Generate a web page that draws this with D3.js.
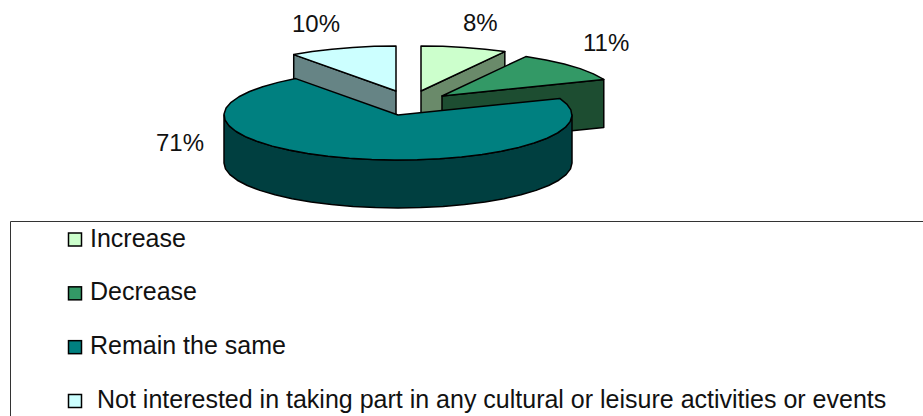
<!DOCTYPE html>
<html><head><meta charset="utf-8">
<script src="https://cdn.jsdelivr.net/npm/d3@7/dist/d3.min.js"></script>
<style>html,body{margin:0;padding:0;background:#fff}svg{display:block}text{font-family:"Liberation Sans",Arial,sans-serif;fill:#111}</style>
</head><body><div id="c"></div>
<script>
const categories = ["Increase","Decrease","Remain the same","Not interested in taking part in any cultural or leisure activities or events"];
const values = [8,11,71,10];
const valueLabels = ["8%","11%","71%","10%"];
const topColors = ["#CCFFCC","#339966","#008080","#CCFFFF"];
const wallColors = ["#6A8A6A","#1D4D31","#003F40","#668485"];
const apexes = [[421,91],[442,96],[398,115],[396,91]];
const labelPos = [[463,31],[583,51],[156,151],[292,32]];
const legendPad = ["","",""," "];

const W=923,H=416,RX=174,RY=45,DEPTH=48,STEP=Math.PI/24;
const svg=d3.select("#c").append("svg").attr("width",W).attr("height",H);
const arcs=d3.pie().sort(null)(values);
const sx=d3.scaleLinear().domain([-1,1]).range([-RX,RX]);
const sy=d3.scaleLinear().domain([-1,1]).range([RY,-RY]);
const line=d3.line().curve(d3.curveLinearClosed);
const pt=(i,a,dy=0)=>[apexes[i][0]+sx(Math.sin(a)),apexes[i][1]+sy(Math.cos(a))+dy];
function rim(i,a0,a1,dy=0){
  const n=Math.max(1,Math.round((a1-a0)/STEP));
  return d3.range(n+1).map(k=>pt(i,a0+(a1-a0)*k/n,dy));
}
const stroke=(s)=>s.attr("stroke","#000").attr("stroke-width",1.5).attr("stroke-linejoin","round");

// back slices, drawn back to front
[3,0,1].forEach(i=>{
  const a=arcs[i];
  const edgeA = i===3 ? a.startAngle : a.endAngle;
  const e0=apexes[i], e1=pt(i,edgeA);
  const wall=[e0,e1,[e1[0],e1[1]+DEPTH],[e0[0],e0[1]+DEPTH]];
  stroke(svg.append("path").attr("d",line(wall)).attr("fill",wallColors[i]));
  stroke(svg.append("path").attr("d",line([apexes[i],...rim(i,a.startAngle,a.endAngle)])).attr("fill",topColors[i]));
});

// large front slice
{
  const i=2,a=arcs[i];
  const wallFrom=Math.PI/2, wallTo=3*Math.PI/2;
  const upper=rim(i,wallFrom,wallTo), lower=rim(i,wallFrom,wallTo,DEPTH).reverse();
  stroke(svg.append("path").attr("d",line([...upper,...lower])).attr("fill",wallColors[i]));
  stroke(svg.append("path").attr("d",line([apexes[i],...rim(i,a.startAngle,a.endAngle)])).attr("fill",topColors[i]));
}

// value labels
svg.selectAll("text.v").data(valueLabels).join("text").attr("class","v")
  .attr("x",(d,i)=>labelPos[i][0]).attr("y",(d,i)=>labelPos[i][1])
  .attr("font-size",24).text(d=>d);

// legend frame: top and left edges only reach the window
svg.append("path").attr("d",`M10.5,${H}V221.5H${W}`).attr("fill","none").attr("stroke","#333").attr("stroke-width",1);

const ly=d3.scalePoint().domain(d3.range(categories.length)).range([239.5,401]);
const lg=svg.selectAll("g.l").data(categories).join("g").attr("class","l")
  .attr("transform",(d,i)=>`translate(0,${ly(i)})`);
lg.append("rect").attr("x",68.5).attr("y",-6.5).attr("width",13).attr("height",13)
  .attr("fill",(d,i)=>topColors[i]).attr("stroke","#000").attr("stroke-width",1.5);
lg.append("text").attr("x",(d,i)=>legendPad[i]?97:90).attr("y",7).attr("font-size",25).text(d=>d);
</script></body></html>
